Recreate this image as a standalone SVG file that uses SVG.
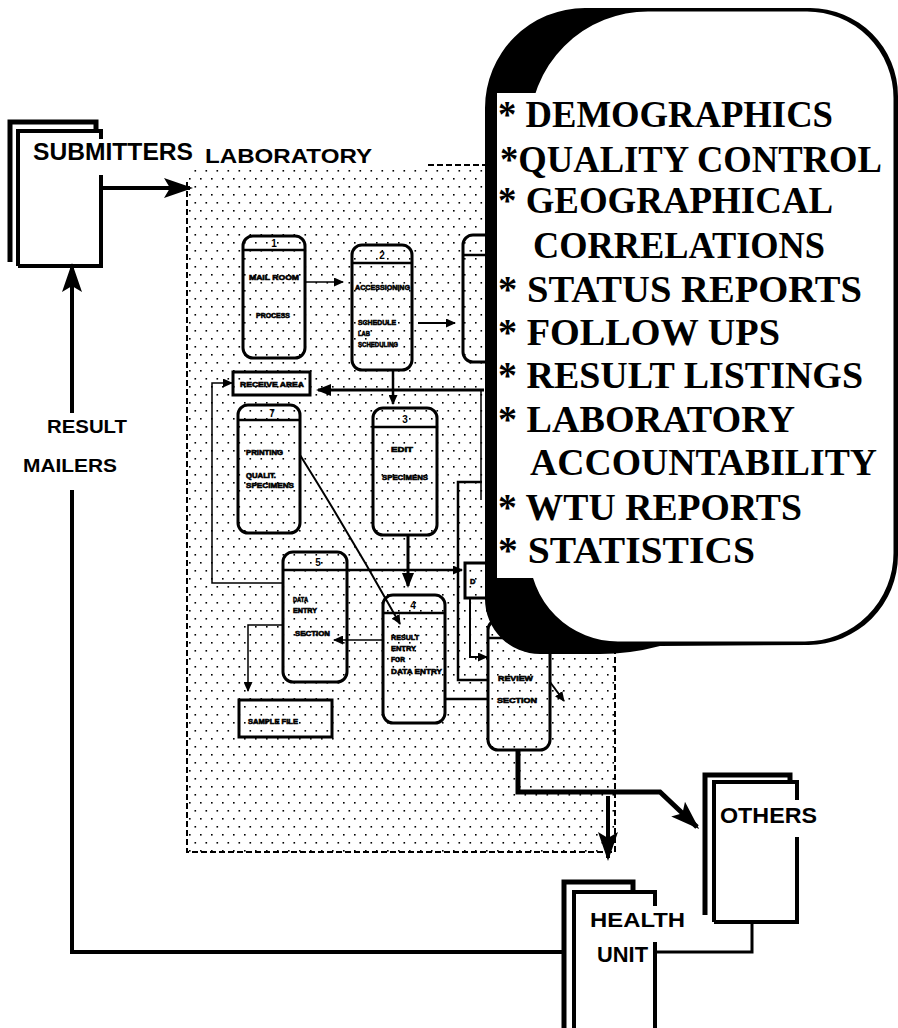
<svg xmlns="http://www.w3.org/2000/svg" width="898" height="1028" viewBox="0 0 898 1028">
<defs>
<pattern id="dots" width="11" height="16" patternUnits="userSpaceOnUse">
<rect x="2" y="2" width="1.6" height="1.6" fill="#000"/>
<rect x="7.5" y="10" width="1.6" height="1.6" fill="#000"/>
</pattern>
<marker id="aBig" markerUnits="userSpaceOnUse" markerWidth="30" markerHeight="22" refX="26" refY="11" orient="auto">
<path d="M0 1 L29 11 L0 21 L6 11 Z" fill="#000"/>
</marker>
<marker id="aMed" markerUnits="userSpaceOnUse" markerWidth="16" markerHeight="12" refX="13" refY="6" orient="auto">
<path d="M0 0 L15 6 L0 12 Z" fill="#000"/>
</marker>
<marker id="aSm" markerUnits="userSpaceOnUse" markerWidth="11" markerHeight="9" refX="9" refY="4.5" orient="auto">
<path d="M0 0 L10 4.5 L0 9 Z" fill="#000"/>
</marker>
</defs>
<style>
.doc{fill:none;stroke:#000;stroke-width:5;stroke-linejoin:miter}
.doc2{fill:none;stroke:#000;stroke-width:4;stroke-linejoin:miter}
.lbl{font-family:"Liberation Sans",Arial,sans-serif;font-weight:bold;fill:#000}
.proc{fill:none;stroke:#000;stroke-width:3}
.hd{stroke:#000;stroke-width:2.5}
.num{font-family:"Liberation Sans",Arial,sans-serif;font-weight:bold;font-size:10px;text-anchor:middle}
.tiny{font-family:"Liberation Sans",Arial,sans-serif;font-weight:bold;font-size:7.5px;fill:#000;stroke:#000;stroke-width:0.6}
.dash{stroke:#000;stroke-width:2;stroke-dasharray:6 3;fill:none}
.ln{fill:none;stroke:#000}
.co{font-family:"Liberation Serif","Times New Roman",serif;font-weight:bold;font-size:38px;fill:#000}
</style>
<rect width="898" height="1028" fill="#fff"/>

<g id="laboratory">
<rect x="187" y="168" width="428" height="684" fill="url(#dots)"/>
<path class="dash" d="M187 182 V852 H615 V630"/>
<path class="dash" d="M428 165 H495"/>
<text class="lbl" x="205" y="163" font-size="21" font-weight="normal" textLength="167" lengthAdjust="spacingAndGlyphs">LABORATORY</text>
</g>

<g id="submitters">
<path class="doc" d="M10 262 V122 H96 V130"/>
<path class="doc2" d="M18 266 V131 H101 V139 M101 175 V266 H18"/>
<text class="lbl" x="33" y="160" font-size="23" textLength="160" lengthAdjust="spacingAndGlyphs">SUBMITTERS</text>
</g>

<g id="p1">
<rect class="proc" x="243" y="236" width="62" height="122" rx="10"/>
<line class="hd" x1="243" y1="250" x2="305" y2="250"/>
<text class="num" x="274" y="247">1</text>
<text class="tiny" x="249" y="280" textLength="50" lengthAdjust="spacingAndGlyphs">MAIL ROOM</text>
<text class="tiny" x="256" y="318" textLength="34" lengthAdjust="spacingAndGlyphs">PROCESS</text>
</g>
<g id="p2">
<rect class="proc" x="352" y="245" width="60" height="125" rx="10"/>
<line class="hd" x1="352" y1="263" x2="412" y2="263"/>
<text class="num" x="382" y="259">2</text>
<text class="tiny" x="355" y="290" textLength="55" lengthAdjust="spacingAndGlyphs">ACCESSIONING</text>
<text class="tiny" x="358" y="325" textLength="38" lengthAdjust="spacingAndGlyphs">SCHEDULE</text>
<text class="tiny" x="358" y="336" textLength="12" lengthAdjust="spacingAndGlyphs">LAB</text>
<text class="tiny" x="358" y="347" textLength="40" lengthAdjust="spacingAndGlyphs">SCHEDULING</text>
</g>
<g id="p6">
<rect class="proc" x="463" y="235" width="45" height="127" rx="10"/>
<line class="hd" x1="463" y1="255" x2="508" y2="255"/>
</g>
<g id="receive">
<rect class="proc" x="233" y="372" width="77" height="23"/>
<text class="tiny" x="240" y="387" textLength="64" lengthAdjust="spacingAndGlyphs">RECEIVE AREA</text>
</g>
<g id="p7">
<rect class="proc" x="238" y="405" width="62" height="128" rx="10"/>
<line class="hd" x1="238" y1="420" x2="300" y2="420"/>
<text class="num" x="272" y="417">7</text>
<text class="tiny" x="246" y="455" textLength="37" lengthAdjust="spacingAndGlyphs">PRINTING</text>
<text class="tiny" x="246" y="478" textLength="30" lengthAdjust="spacingAndGlyphs">QUALIT.</text>
<text class="tiny" x="246" y="488" textLength="48" lengthAdjust="spacingAndGlyphs">SPECIMENS</text>
</g>
<g id="p3">
<rect class="proc" x="373" y="408" width="64" height="127" rx="10"/>
<line class="hd" x1="373" y1="427" x2="437" y2="427"/>
<text class="num" x="405" y="423">3</text>
<text class="tiny" x="391" y="452" textLength="22" lengthAdjust="spacingAndGlyphs">EDIT</text>
<text class="tiny" x="382" y="480" textLength="46" lengthAdjust="spacingAndGlyphs">SPECIMENS</text>
</g>
<g id="p5">
<rect class="proc" x="283" y="552" width="64" height="130" rx="10"/>
<line class="hd" x1="283" y1="570" x2="347" y2="570"/>
<text class="num" x="318" y="566">5</text>
<text class="tiny" x="293" y="602" textLength="15" lengthAdjust="spacingAndGlyphs">DATA</text>
<text class="tiny" x="293" y="613" textLength="24" lengthAdjust="spacingAndGlyphs">ENTRY</text>
<text class="tiny" x="295" y="636" textLength="35" lengthAdjust="spacingAndGlyphs">SECTION</text>
</g>
<g id="pD">
<rect class="proc" x="465" y="563" width="30" height="35"/>
<text class="tiny" x="470" y="584">D</text>
</g>
<g id="p4">
<rect class="proc" x="383" y="595" width="62" height="128" rx="10"/>
<line class="hd" x1="383" y1="613" x2="445" y2="613"/>
<text class="num" x="413" y="609">4</text>
<text class="tiny" x="391" y="640" textLength="28" lengthAdjust="spacingAndGlyphs">RESULT</text>
<text class="tiny" x="391" y="651" textLength="25" lengthAdjust="spacingAndGlyphs">ENTRY</text>
<text class="tiny" x="391" y="662" textLength="14" lengthAdjust="spacingAndGlyphs">FOR</text>
<text class="tiny" x="391" y="674" textLength="51" lengthAdjust="spacingAndGlyphs">DATA ENTRY</text>
</g>
<g id="p8">
<rect class="proc" x="488" y="620" width="62" height="130" rx="10"/>
<line class="hd" x1="488" y1="638" x2="550" y2="638"/>
<text class="tiny" x="498" y="681" textLength="35" lengthAdjust="spacingAndGlyphs">REVIEW</text>
<text class="tiny" x="497" y="703" textLength="40" lengthAdjust="spacingAndGlyphs">SECTION</text>
</g>
<g id="sample">
<rect class="proc" x="239" y="700" width="93" height="37"/>
<text class="tiny" x="248" y="724" textLength="50" lengthAdjust="spacingAndGlyphs">SAMPLE FILE</text>
</g>

<g id="connectors">
<path class="ln" stroke-width="1.5" d="M305 282 H343" marker-end="url(#aSm)"/>
<path class="ln" stroke-width="2" d="M418 323 H455" marker-end="url(#aSm)"/>
<path class="ln" stroke-width="3" d="M484 390 H318" marker-end="url(#aMed)"/>
<path class="ln" stroke-width="1.5" d="M481 390 V500 M486 390 V500"/>
<path class="ln" stroke-width="2.5" d="M393 371 V404" marker-end="url(#aSm)"/>
<path class="ln" stroke-width="3" d="M408 536 V586" marker-end="url(#aMed)"/>
<path class="ln" stroke-width="1.5" d="M283 583 H212 V383 H232" marker-end="url(#aSm)"/>
<path class="ln" stroke-width="2.5" d="M347 570 H462" marker-end="url(#aSm)"/>
<path class="ln" stroke-width="2" d="M300 455 Q352 538 400 624" marker-end="url(#aSm)"/>
<path class="ln" stroke-width="1.5" d="M383 640 H334" marker-end="url(#aSm)"/>
<path class="ln" stroke-width="1.5" d="M283 625 H248 V691" marker-end="url(#aSm)"/>
<path class="ln" stroke-width="2.5" d="M445 699 H488"/>
<path class="ln" stroke-width="2.5" d="M482 482 H458 V680 H488"/>
<path class="ln" stroke-width="2" d="M470 598 V657 H487" marker-end="url(#aSm)"/>
<path class="ln" stroke-width="2" d="M550 682 L564 701" marker-end="url(#aSm)"/>
<path class="ln" stroke-width="5" d="M518 750 V792 H660 L697 827" marker-end="url(#aBig)"/>
<path class="ln" stroke-width="4" d="M608 796 V858" marker-end="url(#aBig)"/>
<path class="ln" stroke-width="4" d="M101 188 H190" marker-end="url(#aBig)"/>
<path class="ln" stroke-width="4" d="M72 413 V266" marker-end="url(#aBig)"/>
<path class="ln" stroke-width="4" d="M72 490 V952 H566"/>
<path class="ln" stroke-width="3" d="M655 952 H752 V922"/>
</g>

<g id="result-mailers">
<text class="lbl" x="47" y="433" font-size="19" textLength="80" lengthAdjust="spacingAndGlyphs">RESULT</text>
<text class="lbl" x="23" y="472" font-size="19" textLength="94" lengthAdjust="spacingAndGlyphs">MAILERS</text>
</g>

<g id="others">
<path class="doc" d="M705 915 V775 H790 V782"/>
<path class="doc2" d="M714 922 V782 H797 V800 M797 837 V922 H714"/>
<text class="lbl" x="720" y="823" font-size="22" textLength="97" lengthAdjust="spacingAndGlyphs">OTHERS</text>
</g>

<g id="health-unit">
<path class="doc" d="M564 1028 V882 H633 V890"/>
<path class="doc2" d="M574 1028 V892 H655 V906 M655 942 V1028"/>
<text class="lbl" x="590" y="927" font-size="21" textLength="95" lengthAdjust="spacingAndGlyphs">HEALTH</text>
<text class="lbl" x="597" y="962" font-size="22" textLength="51" lengthAdjust="spacingAndGlyphs">UNIT</text>
</g>

<g id="callout">
<path d="M585 8 H810 A88 88 0 0 1 898 96 V555 A90 90 0 0 1 808 645 L660 646 Q630 654 600 654 H540 A55 55 0 0 1 485 599 V108 A100 100 0 0 1 585 8 Z" fill="#000"/>
<path d="M648 10 H807 A88 88 0 0 1 895 98 V553 A90 90 0 0 1 805 643 H618 A90 90 0 0 1 528 553 V130 A120 120 0 0 1 648 10 Z" fill="#fff" stroke="#000" stroke-width="3"/>
<rect x="497" y="93" width="392" height="485" fill="#fff"/>
<text class="co" x="498" y="127" textLength="335" lengthAdjust="spacingAndGlyphs">* DEMOGRAPHICS</text>
<text class="co" x="500" y="172" textLength="382" lengthAdjust="spacingAndGlyphs">*QUALITY CONTROL</text>
<text class="co" x="498" y="213" textLength="335" lengthAdjust="spacingAndGlyphs">* GEOGRAPHICAL</text>
<text class="co" x="533" y="258" textLength="292" lengthAdjust="spacingAndGlyphs">CORRELATIONS</text>
<text class="co" x="498" y="302" textLength="364" lengthAdjust="spacingAndGlyphs">* STATUS REPORTS</text>
<text class="co" x="498" y="345" textLength="282" lengthAdjust="spacingAndGlyphs">* FOLLOW UPS</text>
<text class="co" x="498" y="388" textLength="365" lengthAdjust="spacingAndGlyphs">* RESULT LISTINGS</text>
<text class="co" x="498" y="432" textLength="297" lengthAdjust="spacingAndGlyphs">* LABORATORY</text>
<text class="co" x="530" y="475" textLength="347" lengthAdjust="spacingAndGlyphs">ACCOUNTABILITY</text>
<text class="co" x="498" y="520" textLength="304" lengthAdjust="spacingAndGlyphs">* WTU REPORTS</text>
<text class="co" x="498" y="563" textLength="257" lengthAdjust="spacingAndGlyphs">* STATISTICS</text>
</g>
</svg>
